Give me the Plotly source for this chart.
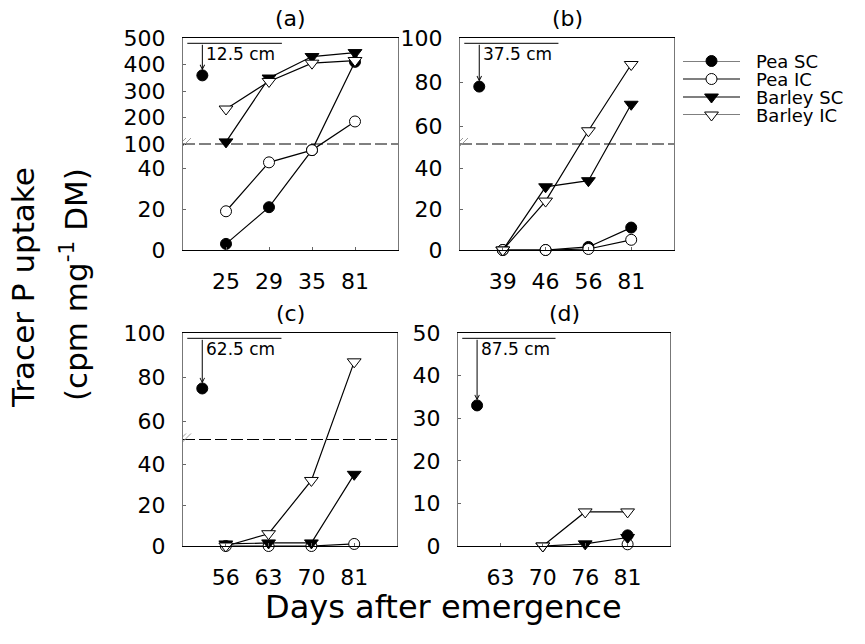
import plotly.graph_objects as go

# ---------------- data ----------------
days_a = [25, 29, 35, 81]
pea_sc_a = [3, 21, 49, 410]
pea_ic_a = [19, 43, 49, 185]
barley_sc_a = [108, 349, 430, 445]
barley_ic_a = [232, 336, 405, 415]
depth_pt_a = 359

days_b = [39, 46, 56, 81]
pea_sc_b = [0, 0, 1.5, 11]
pea_ic_b = [0, 0, 0.5, 5]
barley_sc_b = [0, 31, 34, 70]
barley_ic_b = [0, 24, 58, 88]
depth_pt_b = 78

days_c = [56, 63, 70, 81]
pea_sc_c = [None, None, None, None]
pea_ic_c = [0, 0, 0, 1]
barley_sc_c = [1, 1.5, 1.5, 35]
barley_ic_c = [0, 6, 32, 87]
depth_pt_c = 75

days_d = [63, 70, 76, 81]
pea_sc_d = [None, None, None, 2.5]
pea_ic_d = [None, None, None, 0.4]
barley_sc_d = [None, 0, 0.5, 2]
barley_ic_d = [None, 0, 8, 8]
depth_pt_d = 33

depth_labels = ["12.5 cm", "37.5 cm", "62.5 cm", "87.5 cm"]
panel_labels = ["(a)", "(b)", "(c)", "(d)"]
series_names = ["Pea SC", "Pea IC", "Barley SC", "Barley IC"]

yticks_a = [0, 20, 40, 100, 200, 300, 400, 500]
yticks_bc = [0, 20, 40, 60, 80, 100]
yticks_d = [0, 10, 20, 30, 40, 50]

# ---------------- layout constants ----------------
W, H = 865, 644
FONT = "DejaVu Sans"
PRE_X = -0.55          # slot of the early (depth-labelled) sampling
BRK = 52               # display value of the axis break


def px_x(p):
    return p / W


def px_y(p):
    return 1 - p / H


# pixel boxes (left, right, top, bottom)
boxes = [(183, 398, 38, 250), (460, 674, 38, 250),
         (183, 397, 333, 546), (458, 670, 333, 546)]

# broken-axis mapping: (lower max, upper min, upper max); None = linear
breaks = [(52, 100, 500), (52, 52, 100), (52, 52, 100), None]


def make_disp(brk):
    if brk is None:
        return lambda v: v
    lo_max, hi_min, hi_max = brk

    def f(v):
        if v is None:
            return None
        if v <= lo_max:
            return v * BRK / lo_max
        return BRK + (v - hi_min) * BRK / (hi_max - hi_min)
    return f


panels = [
    (days_a, [pea_sc_a, pea_ic_a, barley_sc_a, barley_ic_a], depth_pt_a, yticks_a),
    (days_b, [pea_sc_b, pea_ic_b, barley_sc_b, barley_ic_b], depth_pt_b, yticks_bc),
    (days_c, [pea_sc_c, pea_ic_c, barley_sc_c, barley_ic_c], depth_pt_c, yticks_bc),
    (days_d, [pea_sc_d, pea_ic_d, barley_sc_d, barley_ic_d], depth_pt_d, yticks_d),
]

styles = [
    dict(symbol="circle", color="black", size=11),
    dict(symbol="circle", color="white", size=11),
    dict(symbol="triangle-down", color="black", size=12),
    dict(symbol="triangle-down", color="white", size=12),
]

fig = go.Figure()
layout = {}
shapes = []
annotations = []

for i, (days, series, depth_pt, yticks) in enumerate(panels):
    sfx = "" if i == 0 else str(i + 1)
    xa, ya = "x" + sfx, "y" + sfx
    disp = make_disp(breaks[i])
    xpos = list(range(len(days)))
    ymax = 2 * BRK if breaks[i] is not None else 50

    for k, vals in enumerate(series):
        st = styles[k]
        fig.add_trace(go.Scatter(
            x=xpos, y=[disp(v) for v in vals], xaxis=xa, yaxis=ya,
            mode="lines+markers", name=series_names[k], showlegend=False,
            line=dict(color="black", width=1.2),
            marker=dict(symbol=st["symbol"], size=st["size"], color=st["color"],
                        line=dict(color="black", width=1)),
            cliponaxis=False,
        ))
    # early sampling point (Pea SC) with depth arrow
    fig.add_trace(go.Scatter(
        x=[PRE_X], y=[disp(depth_pt)], xaxis=xa, yaxis=ya, mode="markers",
        showlegend=False, marker=dict(symbol="circle", size=11, color="black",
                                      line=dict(color="black", width=1)),
        cliponaxis=False,
    ))

    l, r, t, b = boxes[i]
    layout["xaxis" + sfx] = dict(
        domain=[px_x(l), px_x(r)], anchor=ya, range=[-1, 4],
        tickmode="array", tickvals=xpos, ticktext=[str(d) for d in days],
        ticks="inside", ticklen=3, tickcolor="#666", automargin=False,
        showline=True, linecolor="black", linewidth=1.3, mirror=True,
        showgrid=False, zeroline=False, ticklabelstandoff=11,
        tickfont=dict(family=FONT, size=22, color="black"),
    )
    layout["yaxis" + sfx] = dict(
        domain=[px_y(b), px_y(t)], anchor=xa, range=[0, ymax],
        tickmode="array", tickvals=[disp(v) for v in yticks],
        ticktext=[str(v) for v in yticks], automargin=False,
        ticks="inside", ticklen=3, tickcolor="#666",
        showline=True, linecolor="#777", linewidth=1, mirror=True,
        showgrid=False, zeroline=False, ticklabelstandoff=12,
        tickfont=dict(family=FONT, size=22, color="black"),
    )

    # panel label
    annotations.append(dict(
        text=panel_labels[i], xref=xa + " domain", yref=ya + " domain",
        x=0.5, y=1, xanchor="center", yanchor="middle", yshift=19,
        showarrow=False, font=dict(family=FONT, size=22, color="black")))

    # depth bar + arrow + label
    shapes.append(dict(type="line", xref=xa + " domain", yref=ya + " domain",
                       x0=0.02, x1=0.46, y0=0.975, y1=0.975,
                       line=dict(color="black", width=1)))
    annotations.append(dict(
        x=PRE_X, y=disp(depth_pt), xref=xa, yref=ya,
        ax=PRE_X, ay=0.975 * ymax, axref=xa, ayref=ya,
        showarrow=True, arrowhead=5, arrowsize=0.9, arrowwidth=1,
        arrowcolor="black", standoff=5, text=""))
    annotations.append(dict(
        text=depth_labels[i], xref=xa, yref=ya + " domain",
        x=PRE_X, y=0.925, xanchor="left", yanchor="middle", xshift=2,
        showarrow=False, font=dict(family=FONT, size=17, color="black")))

    # axis break: dashed line + slash marks
    if breaks[i] is not None:
        shapes.append(dict(type="line", xref=xa + " domain", yref=ya,
                           x0=0, x1=1, y0=BRK, y1=BRK,
                           line=dict(color="black", width=1, dash="12px,4px")))
        for off in (-3, 2):
            shapes.append(dict(type="line", xref=xa, yref=ya,
                               xsizemode="pixel", ysizemode="pixel",
                               xanchor=-1, yanchor=BRK,
                               x0=-6 + off, x1=6 + off, y0=-6, y1=6,
                               line=dict(color="#999", width=1)))

# ---------------- legend (own small axis) ----------------
rows = list(range(len(series_names)))
layout["xaxis5"] = dict(domain=[px_x(683), px_x(740)], range=[0, 1],
                        anchor="y5", visible=False, automargin=False)
layout["yaxis5"] = dict(domain=[px_y(115), px_y(61)], range=[len(rows) - 1, 0],
                        anchor="x5", visible=False, automargin=False)
for k, name in enumerate(series_names):
    st = styles[k]
    fig.add_trace(go.Scatter(
        x=[0, 1], y=[k, k], xaxis="x5", yaxis="y5", mode="lines",
        line=dict(color="black", width=1.2), showlegend=False,
        cliponaxis=False, hoverinfo="skip"))
    fig.add_trace(go.Scatter(
        x=[0.5], y=[k], xaxis="x5", yaxis="y5", mode="markers",
        marker=dict(symbol=st["symbol"], size=st["size"], color=st["color"],
                    line=dict(color="black", width=1)),
        showlegend=False, cliponaxis=False, hoverinfo="skip"))
    annotations.append(dict(
        text=name, xref="x5", yref="y5", x=1, y=k, xanchor="left",
        yanchor="middle", xshift=14, showarrow=False,
        font=dict(family=FONT, size=18, color="black")))

# axis titles
annotations.append(dict(
    text="Days after emergence", xref="paper", yref="paper",
    x=px_x(444), y=px_y(607), xanchor="center", yanchor="middle",
    showarrow=False, font=dict(family=FONT, size=32, color="black")))
annotations.append(dict(
    text="Tracer P uptake", xref="paper", yref="paper",
    x=px_x(23), y=px_y(288), xanchor="center", yanchor="middle",
    textangle=-90, showarrow=False,
    font=dict(family=FONT, size=31, color="black")))
annotations.append(dict(
    text="(cpm mg<sup>-1</sup> DM)", xref="paper", yref="paper",
    x=px_x(74), y=px_y(285), xanchor="center", yanchor="middle",
    textangle=-90, showarrow=False,
    font=dict(family=FONT, size=31, color="black")))

fig.update_layout(
    template="none",
    width=W, height=H,
    margin=dict(l=0, r=0, t=0, b=0, pad=0, autoexpand=False),
    paper_bgcolor="white", plot_bgcolor="white",
    showlegend=False,
    shapes=shapes, annotations=annotations, **layout,
)

fig.write_html("out.html",
               config={"displayModeBar": False},
               post_script="document.body.style.margin='0';"
                           "document.body.style.overflow='hidden';")
